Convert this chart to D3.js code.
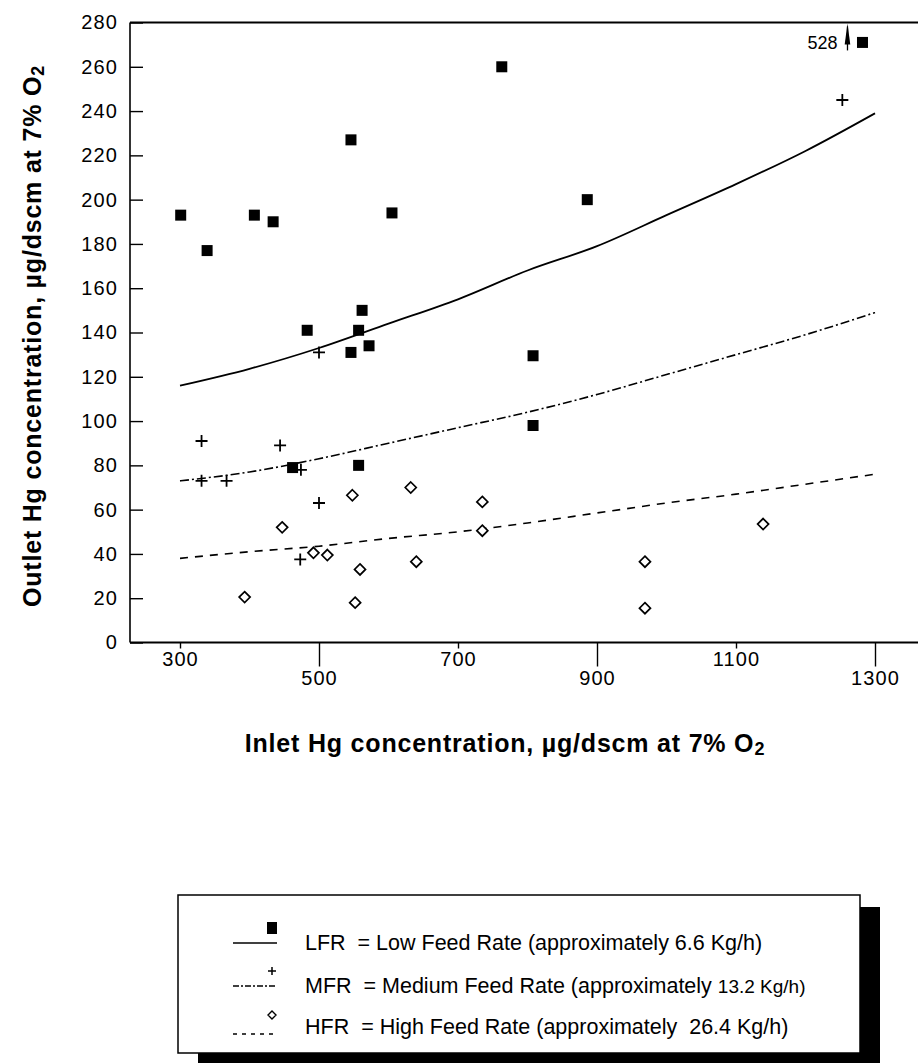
<!DOCTYPE html>
<html>
<head>
<meta charset="utf-8">
<script src="https://cdn.jsdelivr.net/npm/d3@7"></script>
<style>
body { margin: 0; background: #fff; }
svg text { font-family: "Liberation Sans", Arial, Helvetica, sans-serif; fill: #000; }
</style>
</head>
<body>
<svg id="chart" width="918" height="1063"></svg>
<script>
// Inlet vs outlet Hg, three feed rates
var xTicks = [300, 500, 700, 900, 1100, 1300];
var yTicks = [0, 20, 40, 60, 80, 100, 120, 140, 160, 180, 200, 220, 240, 260, 280];

// measured points [inlet, outlet]
var lfrPoints = [[301,193],[339,177],[407,193],[434,190],[546,227],[605,194],[483,141],[562,150],[557,141],
    [546,131],[572,134],[763,260],[886,200],[808,129.5],[808,98],[462,79],[557,80],[1282,528]];
var mfrPoints = [[500,131],[331,91],[444,89],[331,73],[367,73],[474,78],[500,63],[473,37.5],[1253,245]];
var hfrPoints = [[548,66.5],[632,70],[447,52],[492,40.5],[512,39.5],[559,33],[640,36.5],[393,20.5],[552,18],
    [735,63.5],[735,50.5],[969,36.5],[969,15.5],[1139,53.5]];

// fitted curves
var curveX = [300, 400, 500, 600, 700, 800, 900, 1000, 1100, 1200, 1300];
var lfrCurve = [116, 123.6, 133, 144, 155, 168, 179, 193, 207, 222, 239];
var mfrCurve = [73, 77, 83, 90, 97, 104, 112, 121, 130, 139, 149];
var hfrCurve = [38, 41, 43.5, 47, 50, 54, 58.5, 63, 67, 71.5, 76];

// off scale point is drawn at this value with an arrow
var offScaleValue = 271;

var legendKeys = ["LFR", "MFR", "HFR"];
var legendText = [" = Low Feed Rate (approximately ", " = Medium Feed Rate (approximately ", " = High Feed Rate (approximately  "];
var legendRates = ["6.6 Kg/h)", "13.2 Kg/h)", "26.4 Kg/h)"];

var svg = d3.select("#chart");

var x = d3.scaleLinear().domain([300, 1300]).range([180, 875]);
var y = d3.scaleLinear().domain([0, 280]).range([642.5, 22.5]);

var tickFont = function(sel) {
    sel.attr("font-size", 20).attr("letter-spacing", 1.1).style("font-family", "'Liberation Sans', Arial, sans-serif");
};

// frame lines
svg.append("line").attr("x1", 130).attr("x2", 918).attr("y1", y(0)).attr("y2", y(0)).attr("stroke", "#000").attr("stroke-width", 2.2);
svg.append("line").attr("x1", 130).attr("x2", 918).attr("y1", y(280)).attr("y2", y(280)).attr("stroke", "#000").attr("stroke-width", 2);
svg.append("line").attr("x1", 130).attr("x2", 130).attr("y1", y(280)).attr("y2", y(0)).attr("stroke", "#000").attr("stroke-width", 1.6);

// y axis, ticks pointing in
var yAxis = svg.append("g").attr("transform", "translate(130,0)")
    .call(d3.axisLeft(y).tickValues(yTicks).tickSizeInner(-13).tickSizeOuter(0).tickPadding(12));
yAxis.select(".domain").remove();
yAxis.selectAll("line").attr("stroke-width", 1.4);
yAxis.selectAll("text").call(tickFont);

// x axis, staggered labels
var xAxis = svg.append("g").attr("transform", "translate(0," + y(0) + ")")
    .call(d3.axisBottom(x).tickValues(xTicks).tickFormat(d3.format("d")).tickSizeOuter(0).tickSize(6).tickPadding(4));
xAxis.select(".domain").remove();
xAxis.selectAll(".tick").each(function(d, i) {
    var t = d3.select(this);
    t.select("line").attr("stroke-width", 1.4);
    if (i % 2 == 1) {
        t.select("line").attr("y2", 24);
        t.select("text").attr("y", 28);
    } else {
        t.select("text").attr("y", 9);
    }
});
xAxis.selectAll("text").call(tickFont);

// axis titles
var yTitle = svg.append("text").attr("transform", "translate(41,336) rotate(-90)")
    .attr("text-anchor", "middle").attr("font-size", 25).attr("letter-spacing", 0.8).attr("font-weight", "bold");
yTitle.append("tspan").text("Outlet Hg concentration, µg/dscm at 7% O");
yTitle.append("tspan").attr("font-size", 18).attr("dy", 3).text("2");

var xTitle = svg.append("text").attr("x", 505).attr("y", 752)
    .attr("text-anchor", "middle").attr("font-size", 25).attr("letter-spacing", 0.8).attr("font-weight", "bold");
xTitle.append("tspan").text("Inlet Hg concentration, µg/dscm at 7% O");
xTitle.append("tspan").attr("font-size", 18).attr("dy", 3).text("2");

// curves
var line = d3.line().x(function(d) { return x(d[0]); }).y(function(d) { return y(d[1]); }).curve(d3.curveMonotoneX);
var zipCurve = function(vals) { return curveX.map(function(v, i) { return [v, vals[i]]; }); };

svg.append("path").datum(zipCurve(lfrCurve)).attr("d", line)
    .attr("fill", "none").attr("stroke", "#000").attr("stroke-width", 1.8);
svg.append("path").datum(zipCurve(mfrCurve)).attr("d", line)
    .attr("fill", "none").attr("stroke", "#000").attr("stroke-width", 1.6).attr("stroke-dasharray", "9,3,2,3");
svg.append("path").datum(zipCurve(hfrCurve)).attr("d", line)
    .attr("fill", "none").attr("stroke", "#000").attr("stroke-width", 1.6).attr("stroke-dasharray", "8,7");

// markers
var plotY = function(d) { return d[1] > 280 ? y(offScaleValue) : y(d[1]); };

svg.append("g").selectAll("rect").data(lfrPoints).enter().append("rect")
    .attr("x", function(d) { return x(d[0]) - 5.5; })
    .attr("y", function(d) { return plotY(d) - 5.5; })
    .attr("width", 11).attr("height", 11).attr("fill", "#000");

svg.append("g").selectAll("path").data(mfrPoints).enter().append("path")
    .attr("d", function(d) {
        var cx = x(d[0]), cy = y(d[1]);
        return "M" + (cx - 6) + "," + cy + "H" + (cx + 6) + "M" + cx + "," + (cy - 6) + "V" + (cy + 6);
    })
    .attr("stroke", "#000").attr("stroke-width", 1.8).attr("fill", "none");

svg.append("g").selectAll("path").data(hfrPoints).enter().append("path")
    .attr("d", function(d) {
        var cx = x(d[0]), cy = y(d[1]);
        return "M" + cx + "," + (cy - 5.5) + "L" + (cx + 5.5) + "," + cy + "L" + cx + "," + (cy + 5.5) + "L" + (cx - 5.5) + "," + cy + "Z";
    })
    .attr("stroke", "#000").attr("stroke-width", 1.7).attr("fill", "#fff");

// off scale annotation
lfrPoints.filter(function(d) { return d[1] > 280; }).forEach(function(d) {
    var ax = x(d[0]) - 15, ay = plotY(d);
    svg.append("line").attr("x1", ax).attr("x2", ax).attr("y1", ay + 8).attr("y2", y(280) + 4)
        .attr("stroke", "#000").attr("stroke-width", 1.3);
    svg.append("path").attr("d", "M" + ax + "," + (y(280) + 1) + "L" + (ax + 2.8) + "," + (ay + 2) + "L" + (ax - 2.8) + "," + (ay + 2) + "Z")
        .attr("fill", "#000");
    svg.append("text").attr("x", ax - 10).attr("y", ay + 7).attr("text-anchor", "end")
        .attr("font-size", 18).text(d[1]);
});

// legend
var legend = svg.append("g");
legend.append("rect").attr("x", 198).attr("y", 907).attr("width", 682).attr("height", 160).attr("fill", "#000");
legend.append("rect").attr("x", 178).attr("y", 895).attr("width", 682).attr("height", 158)
    .attr("fill", "#fff").attr("stroke", "#000").attr("stroke-width", 1.5);

var rowY = [942, 985, 1026];
var dashes = [null, "6,2,2,2", "4,5"];

legendKeys.forEach(function(k, i) {
    var ly = rowY[i];
    var seg = legend.append("line").attr("x1", 233).attr("x2", 277).attr("y1", ly + (i == 2 ? 8 : 1)).attr("y2", ly + (i == 2 ? 8 : 1))
        .attr("stroke", "#000").attr("stroke-width", 1.6);
    if (dashes[i]) seg.attr("stroke-dasharray", dashes[i]);
    var mx = 272, my = ly - (i == 2 ? 11 : 14);
    if (i == 0) {
        legend.append("rect").attr("x", mx - 5).attr("y", my - 6).attr("width", 10).attr("height", 12).attr("fill", "#000");
    } else if (i == 1) {
        legend.append("path").attr("d", "M" + (mx - 4) + "," + my + "H" + (mx + 4) + "M" + mx + "," + (my - 4) + "V" + (my + 4))
            .attr("stroke", "#000").attr("stroke-width", 1.5);
    } else {
        legend.append("path").attr("d", "M" + mx + "," + (my - 4) + "L" + (mx + 4) + "," + my + "L" + mx + "," + (my + 4) + "L" + (mx - 4) + "," + my + "Z")
            .attr("stroke", "#000").attr("stroke-width", 1.4).attr("fill", "#fff");
    }
    var t = legend.append("text").attr("x", 305).attr("y", ly + 8).attr("font-size", 21.5).style("white-space", "pre");
    t.append("tspan").text(k + " ");
    t.append("tspan").text(legendText[i]);
    t.append("tspan").attr("font-size", i == 1 ? 19 : 21.5).text(legendRates[i]);
});
</script>
</body>
</html>
